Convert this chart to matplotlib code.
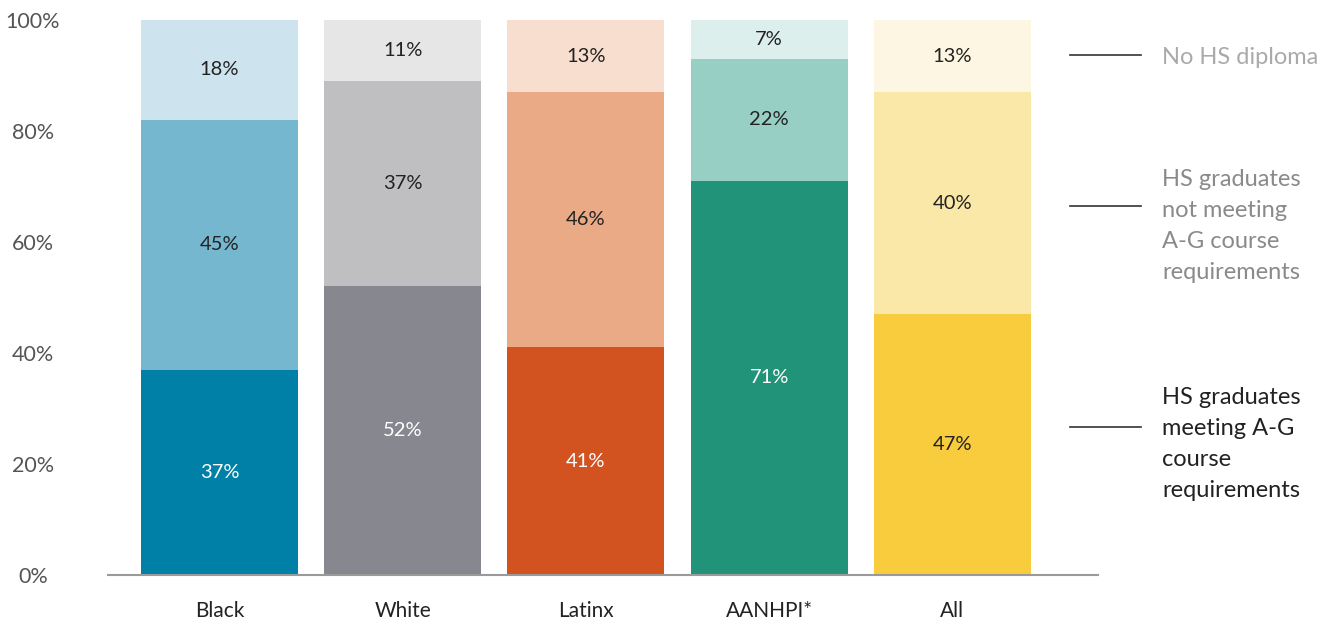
import matplotlib
matplotlib.use("Agg")
import matplotlib.pyplot as plt
from matplotlib.lines import Line2D
import numpy as np

plt.rcParams['font.family'] = ['Lato', 'DejaVu Sans']

categories = ["Black", "White", "Latinx", "AANHPI*", "All"]
meeting = [37, 52, 41, 71, 47]
not_meeting = [45, 37, 46, 22, 40]
no_diploma = [18, 11, 13, 7, 13]

dark_colors = ["#0080A6", "#87878F", "#D2531F", "#219379", "#F8CC3C"]
mid_colors = ["#76B7D0", "#BFBFC1", "#EBAA86", "#98CFC5", "#FAE8A8"]
light_colors = ["#CDE3ED", "#E6E6E6", "#F8DECE", "#DDEFEC", "#FDF6E3"]

dark_text = ["white", "white", "white", "white", "#222222"]
mid_text = ["#222222"] * 5
light_text = ["#222222"] * 5

legend_labels = ["No HS diploma",
                 "HS graduates\nnot meeting\nA-G course\nrequirements",
                 "HS graduates\nmeeting A-G\ncourse\nrequirements"]
legend_colors = ["#AAAAAA", "#8A8A8A", "#222222"]

W, H = 1330, 621
fig = plt.figure(figsize=(W / 100, H / 100), dpi=100)
ax = fig.add_axes([108 / W, 1 - 575 / H, (1098 - 108) / W, (575 - 20) / H])

x = np.arange(len(categories))
width = 0.857
bottom = np.zeros(len(categories))
for vals, cols, tcols in [(meeting, dark_colors, dark_text),
                          (not_meeting, mid_colors, mid_text),
                          (no_diploma, light_colors, light_text)]:
    vals = np.array(vals, dtype=float)
    ax.bar(x, vals, width, bottom=bottom, color=cols, linewidth=0, zorder=2)
    for i, v in enumerate(vals):
        ax.text(x[i], bottom[i] + v / 2, f"{int(v)}%", ha="center", va="center",
                fontsize=14.5, color=tcols[i], zorder=3)
    bottom += vals

ax.set_xlim(-0.608, 4.794)
ax.set_ylim(0, 100)
for s in ["top", "right", "left"]:
    ax.spines[s].set_visible(False)
ax.spines["bottom"].set_color("#9A9A9A")
ax.spines["bottom"].set_linewidth(1.5)
ax.set_yticks([0, 20, 40, 60, 80, 100])
ax.set_yticklabels(["0%", "20%", "40%", "60%", "80%", "100%"])
ax.tick_params(axis="y", length=0, labelsize=15.5, labelcolor="#555555", pad=0)
for lab in ax.get_yticklabels():
    lab.set_horizontalalignment("center")
    lab.set_x(-(108 - 33) / (1098 - 108))
ax.set_xticks(x)
ax.set_xticklabels(categories)
ax.tick_params(axis="x", length=0, labelsize=15, labelcolor="#222222", pad=19)

# legend annotations on the right
line_ys = [55, 206, 427]
text_ys = [57, 226, 444]
for ly, ty, lab, c in zip(line_ys, text_ys, legend_labels, legend_colors):
    fig.add_artist(Line2D([1070 / W, 1141 / W], [1 - ly / H, 1 - ly / H],
                          color="#333333", linewidth=1.2))
    fig.text(1162 / W, 1 - ty / H, lab, ha="left", va="center", fontsize=17,
             color=c, linespacing=1.6)

fig.savefig("out.png", dpi=100)
